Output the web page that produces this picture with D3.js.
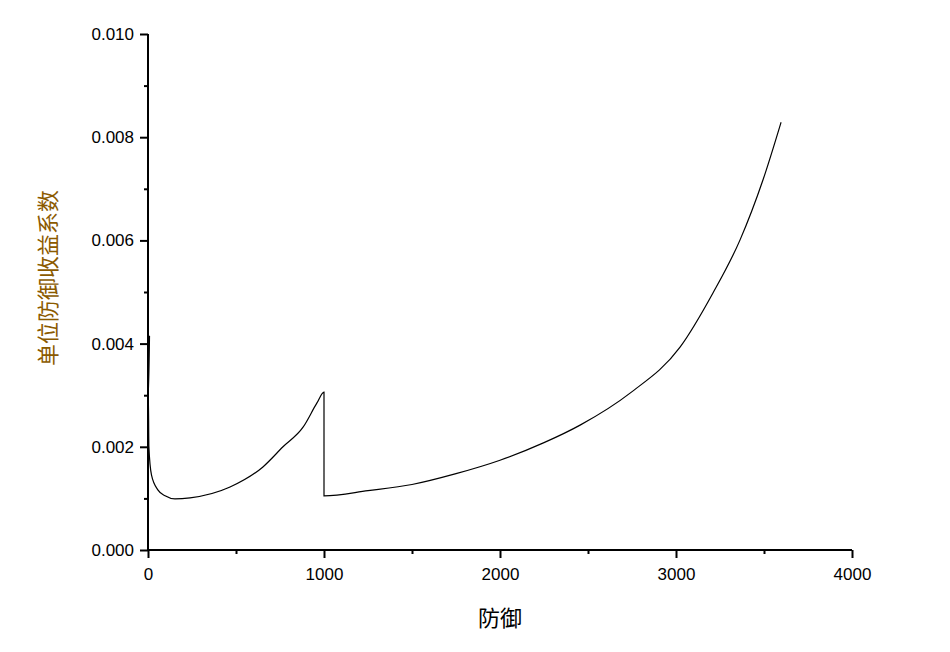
<!DOCTYPE html><html><head><meta charset="utf-8"><script src="https://d3js.org/d3.v7.min.js"></script>
<style>body{margin:0;background:#fff}</style></head><body><svg id="c" width="950" height="652"></svg><script>
const xs=[0,2,5,20,57,97,153,239,466,653,767,881,960,1000,1000,1250,1500,1750,2000,2250,2455,2739,3023,3210,3364,3494,3597];
const ys=[0.00415,0.0030,0.0020,0.00145,0.00116,0.00105,0.00099,0.00101,0.00122,0.00161,0.0020,0.00238,0.00285,0.00306,0.00105,0.00115,0.00127,0.00148,0.00174,0.00208,0.00242,0.00304,0.00393,0.00498,0.00601,0.00717,0.00829];
const xTicks=[0,1000,2000,3000,4000], yTicks=[0,0.002,0.004,0.006,0.008,0.010];
const svg=d3.select("#c");
const x=d3.scaleLinear().domain([0,4000]).range([148,852]);
const y=d3.scaleLinear().domain([0,0.01]).range([550,34]);
const f="'Liberation Sans',Arial,sans-serif";
const gx=svg.append("g").attr("transform","translate(0,550)").call(d3.axisBottom(x).tickValues(xTicks).tickFormat(d3.format("d")).tickSize(8).tickPadding(10));
const gx2=svg.append("g").attr("transform","translate(0,550)").call(d3.axisBottom(x).tickValues([500,1500,2500,3500]).tickFormat("").tickSize(4));
const gy=svg.append("g").attr("transform","translate(148,0)").call(d3.axisLeft(y).tickValues(yTicks).tickFormat(d3.format(".3f")).tickSize(8).tickPadding(6));
const gy2=svg.append("g").attr("transform","translate(148,0)").call(d3.axisLeft(y).tickValues([0.001,0.003,0.005,0.007,0.009]).tickFormat("").tickSize(4));
[gx,gx2,gy,gy2].forEach(g=>{g.selectAll("path").attr("stroke","#000").attr("stroke-width",2);g.selectAll("line").attr("stroke","#000").attr("stroke-width",2);g.selectAll("text").attr("font-family",f).attr("font-size",17).attr("fill","#000");});
gx.select(".domain").attr("d","M148,0H852");gx2.select(".domain").remove();gy.select(".domain").attr("d","M0,550V34");gy2.select(".domain").remove();
const pts=xs.map((d,i)=>[d,ys[i]]);
svg.append("path").datum(pts).attr("fill","none").attr("stroke","#000").attr("stroke-width",1.2)
 .attr("d",d3.line().x(d=>x(d[0])+(d[0]===0?1.5:0)).y(d=>y(d[1])).curve(d3.curveMonotoneX));
svg.append("text").attr("x",500).attr("y",626).attr("text-anchor","middle").attr("font-family","'Noto Sans CJK SC'").attr("font-size",22).text("防御");
svg.append("text").attr("transform","translate(56,278) rotate(-90)").attr("text-anchor","middle").attr("font-family","'Noto Sans CJK SC'").attr("font-size",22).attr("fill","#8B5A00").text("单位防御收益系数");
</script></body></html>
